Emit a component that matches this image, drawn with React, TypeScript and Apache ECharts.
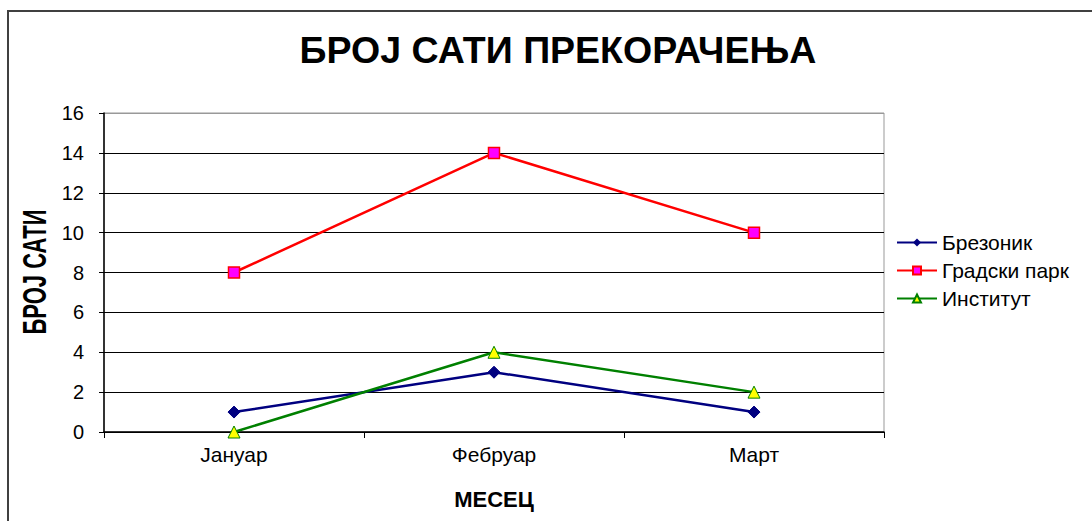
import React, { useEffect, useRef } from "react";
import * as echarts from "echarts";

const categories = ["Јануар", "Фебруар", "Март"];
const brezonik = [1, 3, 1];
const gradskiPark = [8, 14, 10];
const institut = [0, 4, 2];
const seriesNames = ["Брезоник", "Градски парк", "Институт"];
const titleText = "БРОЈ САТИ ПРЕКОРАЧЕЊА";
const yName = "БРОЈ САТИ";
const xName = "МЕСЕЦ";

export default function App() {
  const ref = useRef<HTMLDivElement>(null);
  useEffect(() => {
    if (!ref.current) return;
    const chart = echarts.init(ref.current, null, { renderer: "svg" });
    const font = "'Liberation Sans', Arial, sans-serif";
    const splitColors = ["#000", "#000", "#000", "#000", "#000", "#000", "#000", "#000", "#999"];
    chart.setOption({
      animation: false,
      backgroundColor: "#fff",
      textStyle: { fontFamily: font },
      graphic: [
        {
          type: "rect",
          shape: { x: 8, y: 11, width: 1200, height: 600 },
          style: { fill: "none", stroke: "#404040", lineWidth: 2 },
          silent: true,
        },
        {
          type: "text",
          x: 35,
          y: 272,
          rotation: Math.PI / 2,
          scaleX: 1,
          scaleY: 1.5,
          style: {
            text: yName,
            fill: "#000",
            font: "bold 22px 'Liberation Sans', Arial, sans-serif",
            textAlign: "center",
            textVerticalAlign: "middle",
          },
          silent: true,
        },
      ],
      title: {
        text: titleText,
        left: 553,
        textAlign: "center",
        top: 26,
        textStyle: { fontFamily: font, fontSize: 37.5, fontWeight: "bold", color: "#000" },
      },
      legend: {
        orient: "vertical",
        left: 891,
        top: 227,
        itemWidth: 40,
        itemHeight: 10,
        itemGap: 7,
        textStyle: { fontFamily: font, fontSize: 21, color: "#000" },
        data: seriesNames,
      },
      grid: {
        left: 104,
        top: 113,
        width: 780,
        height: 319,
        show: true,
        borderColor: "#999",
        borderWidth: 1,
      },
      xAxis: {
        type: "category",
        data: categories,
        boundaryGap: true,
        name: xName,
        nameLocation: "middle",
        nameGap: 56,
        nameTextStyle: { fontFamily: font, fontSize: 22, fontWeight: "bold", color: "#000" },
        axisLine: { lineStyle: { color: "#000", width: 1.5 } },
        axisTick: { show: true, length: 6, lineStyle: { color: "#000" } },
        axisLabel: { fontFamily: font, fontSize: 21, color: "#000", margin: 12 },
      },
      yAxis: {
        type: "value",
        min: 0,
        max: 16,
        interval: 2,
        axisLine: { show: true, lineStyle: { color: "#000", width: 1.5 } },
        axisTick: { show: true, length: 5, lineStyle: { color: "#000" } },
        axisLabel: { fontFamily: font, fontSize: 20, color: "#000", margin: 20 },
        splitLine: { show: true, lineStyle: { color: splitColors, width: 1 } },
      },
      series: [
        {
          name: seriesNames[0],
          type: "line",
          data: brezonik,
          symbol: "diamond",
          symbolSize: 12,
          lineStyle: { color: "#000080", width: 2.5 },
          itemStyle: { color: "#000080", borderColor: "#000080" },
        },
        {
          name: seriesNames[1],
          type: "line",
          data: gradskiPark,
          symbol: "rect",
          symbolSize: 11,
          lineStyle: { color: "#ff0000", width: 2.5 },
          itemStyle: { color: "#ff00ff", borderColor: "#ff0000", borderWidth: 1.5 },
        },
        {
          name: seriesNames[2],
          type: "line",
          data: institut,
          symbol: "triangle",
          symbolSize: 12,
          lineStyle: { color: "#008000", width: 2.5 },
          itemStyle: { color: "#ffff00", borderColor: "#008000", borderWidth: 1 },
        },
      ],
    });
    return () => chart.dispose();
  }, []);
  return (
    <div
      ref={ref}
      style={{ position: "absolute", left: 0, top: 0, width: 1092, height: 521 }}
    />
  );
}
